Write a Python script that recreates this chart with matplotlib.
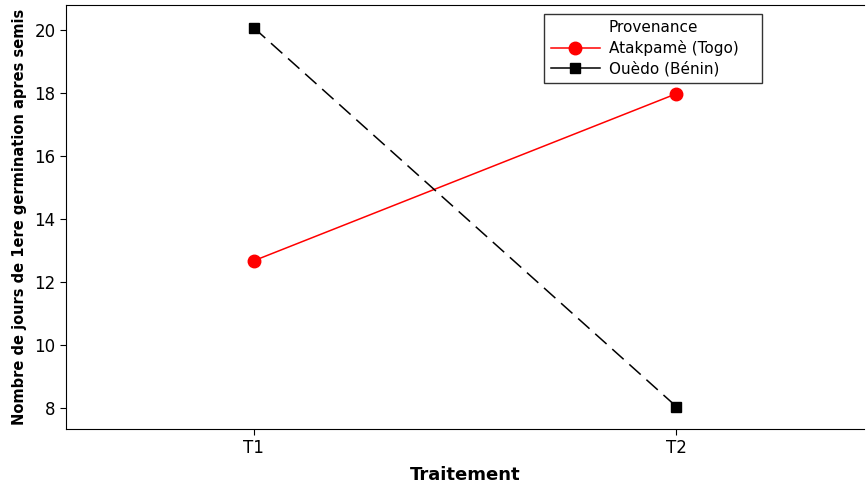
import matplotlib
matplotlib.use("Agg")
import matplotlib.pyplot as plt

traitements = ["T1", "T2"]
atakpame = [12.67, 17.97]
ouedo = [20.06, 8.04]

fig = plt.figure(figsize=(8.67, 4.88), dpi=100)
ax = fig.add_axes([0.076, 0.121, 0.921, 0.869])

x = [1, 2]
ax.plot(x, atakpame, color="red", marker="o", markersize=9, linewidth=1.1)
ax.plot(x, ouedo, color="black", marker="s", markersize=7, linewidth=1.1,
        linestyle=(0, (10, 5)))

ax.set_xlim(0.555, 2.445)
ax.set_ylim(7.33, 20.79)
ax.set_xticks(x)
ax.set_xticklabels(traitements)
ax.set_yticks([8, 10, 12, 14, 16, 18, 20])
ax.tick_params(labelsize=12, length=4, direction="out")
ax.spines["right"].set_visible(False)

ax.set_xlabel("Traitement", fontsize=13, fontweight="bold", labelpad=6)
ax.set_ylabel("Nombre de jours de 1ere germination apres semis",
              fontsize=10.5, fontweight="bold", labelpad=5)

# legend: title as a blank entry so it lines up with the labels
handles = [plt.Line2D([], [], linestyle="none"),
           plt.Line2D([], [], color="red", marker="o", markersize=9, linewidth=1.1),
           plt.Line2D([], [], color="black", marker="s", markersize=7, linewidth=1.1)]
labels = ["Provenance", "Atakpamè (Togo)", "Ouèdo (Bénin)"]
leg = ax.legend(handles, labels, loc="upper left", mode="expand",
                bbox_to_anchor=(0.599, 0.979, 0.273, 0.0), fontsize=11,
                frameon=True, fancybox=False, edgecolor="black",
                borderpad=0.42, handlelength=3.2, handletextpad=0.6,
                labelspacing=0.33, borderaxespad=0)
leg.get_frame().set_linewidth(1.0)

fig.savefig("out.png", dpi=100)
